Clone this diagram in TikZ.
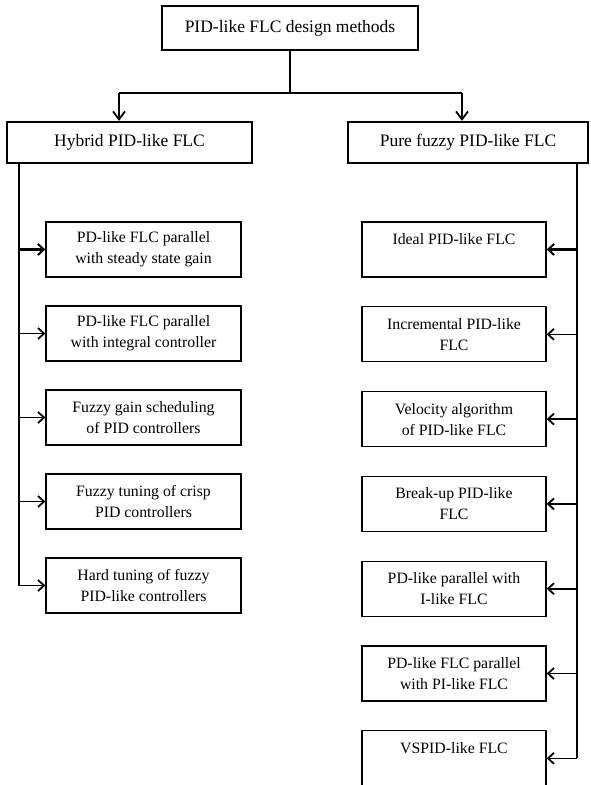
\documentclass[tikz,border=0pt]{standalone}
\usepackage{fontspec}
\setmainfont{Liberation Serif}
\usetikzlibrary{arrows.meta}
\begin{document}
\begin{tikzpicture}[x=1pt,y=-1pt,
  headbox/.style={draw,line width=2.2pt,inner sep=0pt,font=\fontsize{17.5}{21}\selectfont,anchor=center},
  itembox/.style={draw,line width=1.3pt,inner sep=0pt,minimum height=55pt,align=center,font=\fontsize{15.8}{21}\selectfont},
  leftitem/.style={itembox,minimum width=195pt},
  rightitem/.style={itembox,minimum width=184pt},
  conn/.style={line width=1.5pt},
  arr/.style={line width=1.6pt,-{Straight Barb[length=6pt,width=11pt,line width=1.8pt]}},
  thickarr/.style={line width=3pt,-{Straight Barb[length=6pt,width=11pt,line width=2pt]}},
  downarr/.style={line width=2pt,-{Straight Barb[length=8pt,width=12pt,line width=1.8pt]}}]
\useasboundingbox (0,0) rectangle (590,785);

\node[headbox,minimum width=256pt,minimum height=44pt] (top) at (290,28) {PID-like FLC design methods};
\node[headbox,minimum width=245pt,minimum height=41pt] (hyb) at (129.5,142.5) {Hybrid PID-like FLC};
\node[headbox,minimum width=240pt,minimum height=41pt] (pure) at (468,142.5) {Pure fuzzy PID-like FLC};

\coordinate (hub) at (290,93);
\coordinate (aL) at (119,93);
\coordinate (aR) at (462,93);
\draw[line width=1.1pt] (top.south) -- (hub);
\draw[conn] (aL) -- (aR);
\draw[downarr] (aL) -- (hyb.north -| aL);
\draw[downarr] (aR) -- (pure.north -| aR);

% left column
\node[leftitem] (L1) at (143.5,249.5) {PD-like FLC parallel\\with steady state gain};
\node[leftitem] (L2) at (143.5,333.5) {PD-like FLC parallel\\with integral controller};
\node[leftitem] (L3) at (143.5,417.5) {Fuzzy gain scheduling\\of PID controllers};
\node[leftitem] (L4) at (143.5,501.5) {Fuzzy tuning of crisp\\PID controllers};
\node[leftitem] (L5) at (143.5,585.5) {Hard tuning of fuzzy\\PID-like controllers};

\coordinate (vL) at (19,0);
\draw[conn] (hyb.south -| vL) -- (L5.west -| vL);
\draw[thickarr] (L1.west -| vL) -- (L1.west);
\draw[arr] (L2.west -| vL) -- (L2.west);
\draw[arr] (L3.west -| vL) -- (L3.west);
\draw[arr] (L4.west -| vL) -- (L4.west);
\draw[arr] (L5.west -| vL) -- (L5.west);

% right column
\node[rightitem] (R1) at (454,249.5) {Ideal PID-like FLC\\\mbox{}};
\node[rightitem] (R2) at (454,334.3) {Incremental PID-like\\FLC};
\node[rightitem] (R3) at (454,419.1) {Velocity algorithm\\of PID-like FLC};
\node[rightitem] (R4) at (454,503.9) {Break-up PID-like\\FLC};
\node[rightitem] (R5) at (454,588.7) {PD-like parallel with\\I-like FLC};
\node[rightitem] (R6) at (454,673.5) {PD-like FLC parallel\\with PI-like FLC};
\node[rightitem] (R7) at (454,758.3) {VSPID-like FLC\\\mbox{}};

\coordinate (vR) at (577,0);
\draw[conn] (pure.south -| vR) -- (R7.east -| vR);
\draw[thickarr] (R1.east -| vR) -- (R1.east);
\draw[arr] (R2.east -| vR) -- (R2.east);
\draw[arr] (R3.east -| vR) -- (R3.east);
\draw[arr] (R4.east -| vR) -- (R4.east);
\draw[arr] (R5.east -| vR) -- (R5.east);
\draw[arr] (R6.east -| vR) -- (R6.east);
\draw[arr] (R7.east -| vR) -- (R7.east);
\end{tikzpicture}
\end{document}
